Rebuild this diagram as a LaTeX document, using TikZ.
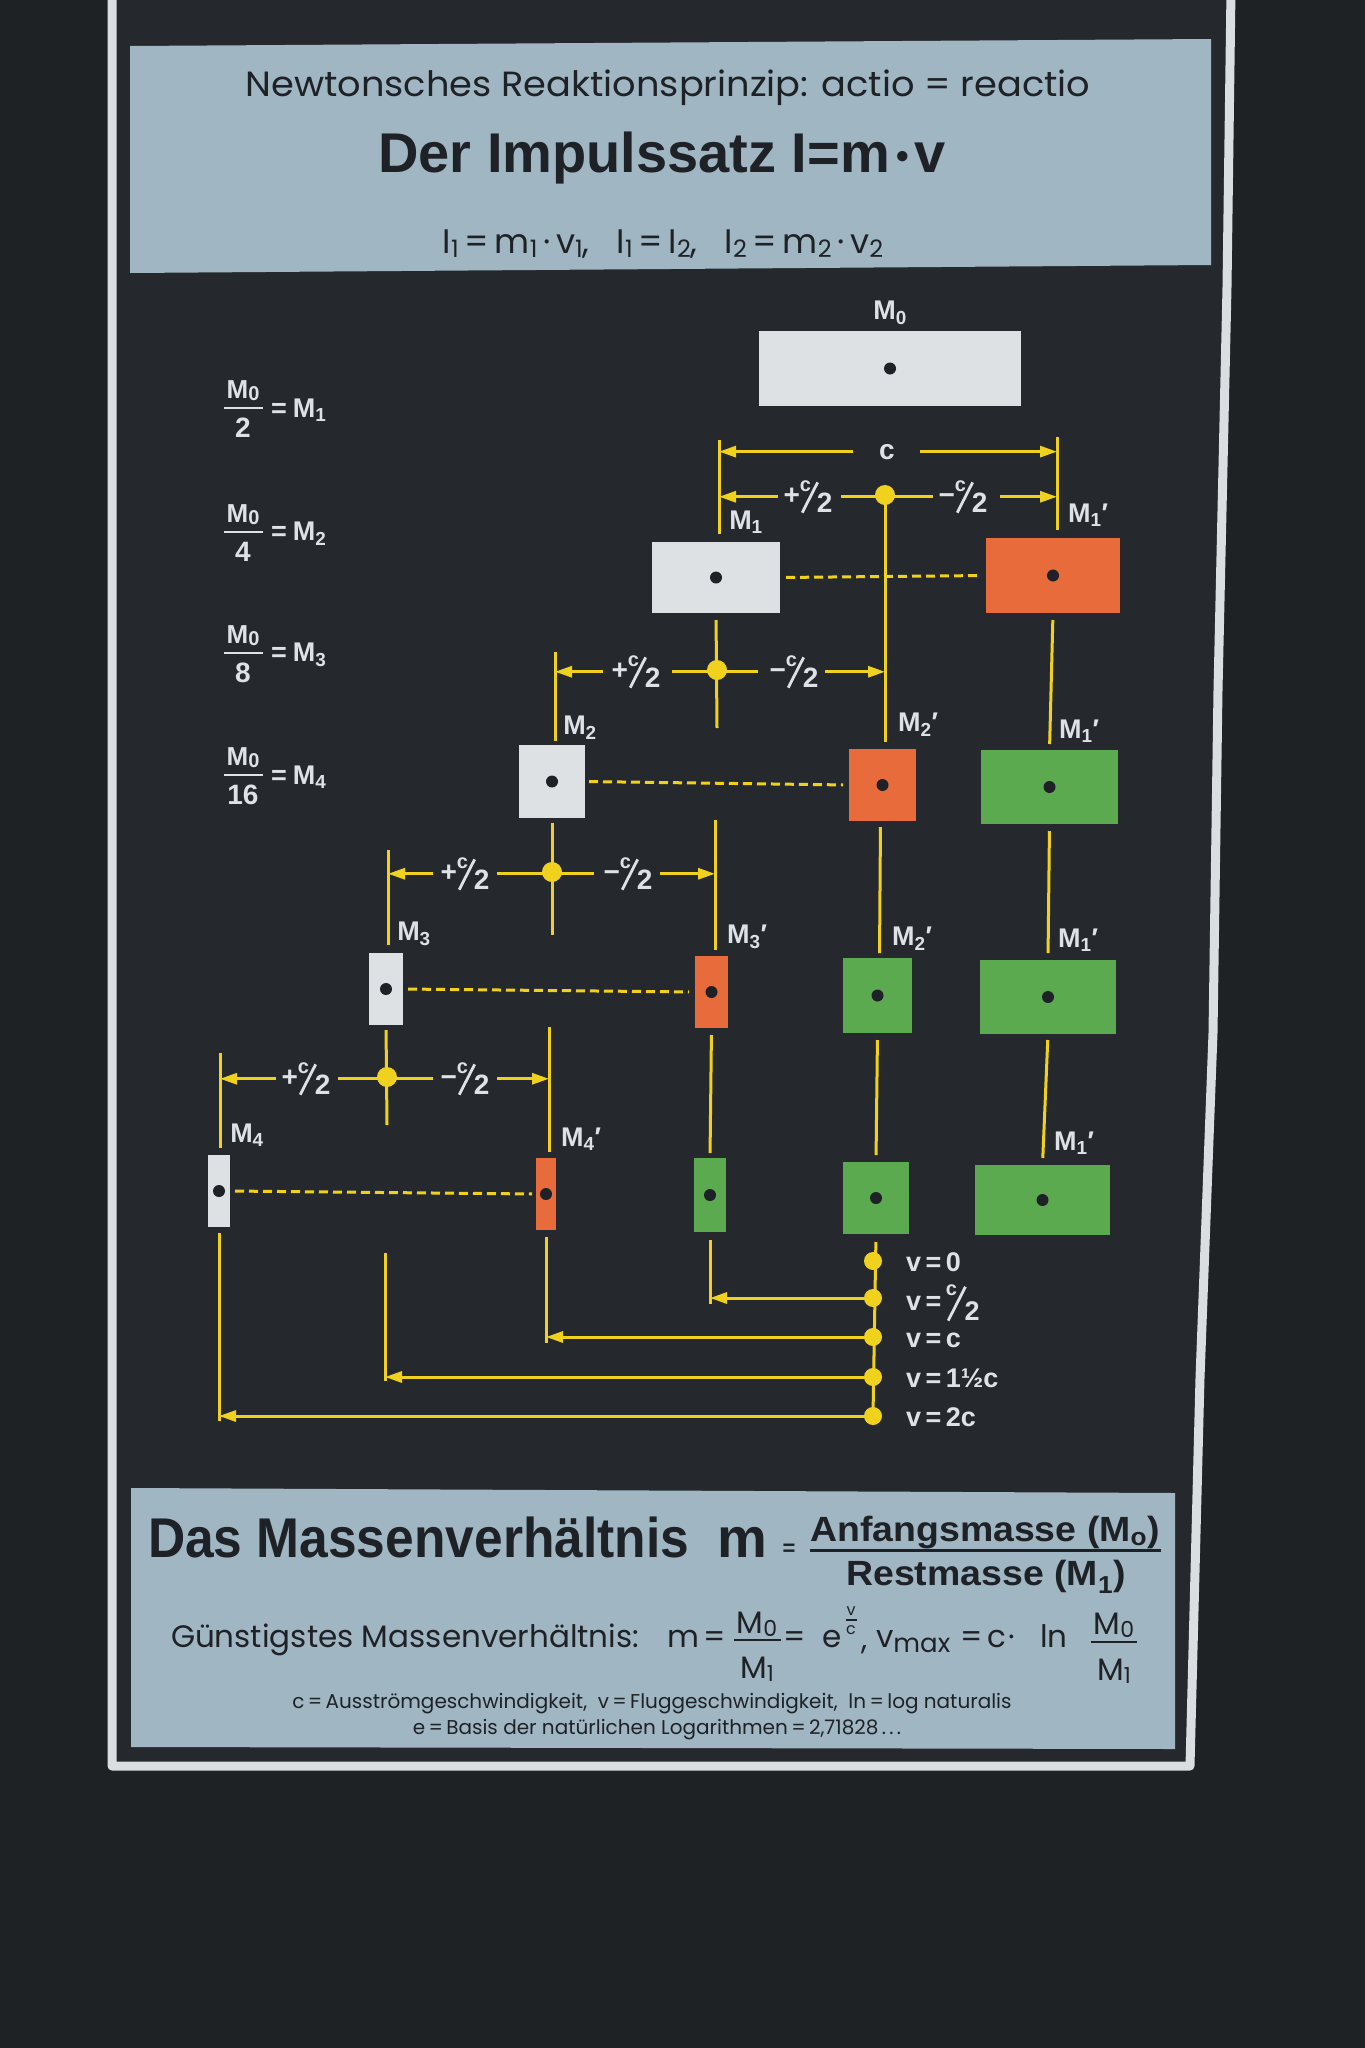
\documentclass[tikz,border=0pt]{standalone}
\usepackage{fontspec}
\usepackage{graphicx}
\setmainfont{Liberation Sans}
\newfontfamily\pop{Poppins}
\usetikzlibrary{arrows.meta}
\definecolor{bg}{HTML}{1F2225}
\definecolor{board}{HTML}{25292D}
\definecolor{framec}{HTML}{D9DEE1}
\definecolor{panel}{HTML}{A1B6C3}
\definecolor{ink}{HTML}{1E2226}
\definecolor{chalk}{HTML}{DDE2E6}
\definecolor{ywl}{HTML}{F0D21E}
\definecolor{org}{HTML}{E86B3B}
\definecolor{grn}{HTML}{5CAA50}
\definecolor{wht}{HTML}{DDE1E4}
\newcommand\fs[1]{\fontsize{#1}{#1}\selectfont}
\newcommand\sbx[3]{\raisebox{-#1pt}{\fs{#2}#3}}
\newcommand\slashbar[1]{\rotatebox{-27}{\rule{2.8pt}{#1}}}
\newcommand\chalf{\raisebox{13pt}{\fs{20}c}\kern-10pt\raisebox{-8pt}{\slashbar{34pt}}\kern-2pt\raisebox{-8pt}{2}}
\newcommand\chalfv{\raisebox{15pt}{\fs{20}c}\kern-10pt\raisebox{-10pt}{\slashbar{38pt}}\kern-2pt\raisebox{-10pt}{2}}
\begin{document}
\begin{tikzpicture}[x=1pt,y=-1pt,
  every node/.style={inner sep=0pt,outer sep=0pt},
  massW/.style={fill=wht},
  massO/.style={fill=org},
  massG/.style={fill=grn},
  lab/.style={font={\bfseries\fs{27}},text=chalk},
  hlab/.style={font={\bfseries\fs{28}},text=chalk,anchor=base},
  vlab/.style={anchor=base west,font={\bfseries\fs{27}},text=chalk},
  yl/.style={draw=ywl,line width=3pt},
  arr/.style={-{Triangle[length=17pt,width=11pt]}},
  dashlink/.style={draw=ywl,line width=3pt,dash pattern=on 9pt off 5pt},
  inkt/.style={text=ink},
  gtxt/.style={font={\pop\fs{31}},text=ink}]
\useasboundingbox (0,0) rectangle (1365,2048);
\fill[bg] (0,0) rectangle (1365,2048);
% board and frame
\fill[board] (112,-10) -- (112,1766) -- (1190,1766) -- (1200,1378) -- (1213,1033) -- (1218,690) -- (1227,287) -- (1231,-10) -- cycle;
\draw[framec,line width=9pt,line join=round] (112,-10) -- (112,1766) -- (1190,1766) -- (1200,1378) -- (1213,1033) -- (1218,690) -- (1227,287) -- (1231,-10);
% header panel
\fill[panel] (130,46) -- (1211,39) -- (1211,265) -- (130,273) -- cycle;
\node[anchor=base,font={\pop\fs{35}},inkt] (h1) at (668,96) {\scalebox{1.05}[1]{Newtonsches Reaktionsprinzip: actio = reactio}};
\node[anchor=base,font={\bfseries\fs{56}},inkt] (h2) at (662,172) {Der Impulssatz I=m\kern6pt\raisebox{4pt}{\fs{36}•}\kern6pt v};
\node[anchor=base,font={\pop\fs{34}},inkt] (h3) at (663,253) {I\sbx{4}{24}{1}\,=\,m\sbx{4}{24}{1}\,·\,v\sbx{4}{24}{1}, \ \ I\sbx{4}{24}{1}\,=\,I\sbx{4}{24}{2}, \ \ I\sbx{4}{24}{2}\,=\,m\sbx{4}{24}{2}\,·\,v\sbx{4}{24}{2}};
% left fraction labels
\foreach \d/\s/\b in {2/1/408,4/2/532,8/3/653,16/4/775}{
  \node[font={\bfseries\fs{26}},text=chalk] (fn\s) at (243,\b-17) {M\raisebox{-2pt}{\fs{20}0}};
  \draw[chalk,line width=2.5pt] (224,\b) -- (263,\b);
  \node[font={\bfseries\fs{28}},text=chalk] (fd\s) at (243,\b+20) {\d};
  \node[anchor=west,font={\bfseries\fs{27}},text=chalk] (fe\s) at (271,\b+2) {=\kern6pt M\textsubscript{\s}};
}
% mass boxes
\node[massW,minimum width=262pt,minimum height=75pt] (M0) at (890,368.5) {};
\node[massW,minimum width=128pt,minimum height=71pt] (M1) at (716,577.5) {};
\node[massO,minimum width=134pt,minimum height=75pt] (M1a) at (1053,575.5) {};
\node[massW,minimum width=66pt,minimum height=73pt] (M2) at (552,781.5) {};
\node[massO,minimum width=67pt,minimum height=72pt] (M2a) at (882.5,785) {};
\node[massG,minimum width=137pt,minimum height=74pt] (M1b) at (1049.5,787) {};
\node[massW,minimum width=34pt,minimum height=72pt] (M3) at (386,989) {};
\node[massO,minimum width=33pt,minimum height=72pt] (M3a) at (711.5,992) {};
\node[massG,minimum width=69pt,minimum height=75pt] (M2b) at (877.5,995.5) {};
\node[massG,minimum width=136pt,minimum height=74pt] (M1c) at (1048,997) {};
\node[massW,minimum width=22pt,minimum height=72pt] (M4) at (219,1191) {};
\node[massO,minimum width=20pt,minimum height=72pt] (M4a) at (546,1194) {};
\node[massG,minimum width=32pt,minimum height=74pt] (M3b) at (710,1195) {};
\node[massG,minimum width=66pt,minimum height=72pt] (M2c) at (876,1198) {};
\node[massG,minimum width=135pt,minimum height=70pt] (M1d) at (1042.5,1200) {};
% mass labels
\node[lab] (lM0) at (890,313) {M\textsubscript{0}};
\node[lab] (lM1) at (746,522) {M\textsubscript{1}};
\node[lab] (lM1a) at (1088,515) {M\textsubscript{1}′};
\node[lab] (lM2) at (580,728) {M\textsubscript{2}};
\node[lab] (lM2a) at (918,725) {M\textsubscript{2}′};
\node[lab] (lM1b) at (1079,731) {M\textsubscript{1}′};
\node[lab] (lM3) at (414,934) {M\textsubscript{3}};
\node[lab] (lM3a) at (747,937) {M\textsubscript{3}′};
\node[lab] (lM2b) at (912,939) {M\textsubscript{2}′};
\node[lab] (lM1c) at (1078,940) {M\textsubscript{1}′};
\node[lab] (lM4) at (247,1135) {M\textsubscript{4}};
\node[lab] (lM4a) at (581,1139) {M\textsubscript{4}′};
\node[lab] (lM1d) at (1074,1143) {M\textsubscript{1}′};
% dashed links
\draw[dashlink,shorten <=6pt,shorten >=6pt] (M1.east) -- (M1a.west);
\draw[dashlink,shorten <=4pt,shorten >=6pt] (M2.east) -- (M2a.west);
\draw[dashlink,shorten <=5pt,shorten >=6pt] (M3.east) -- (M3a.west);
\draw[dashlink,shorten <=5pt,shorten >=4pt] (M4.east) -- (M4a.west);
% ---- level 1
\coordinate (D1) at (885,495);
\coordinate (T1L) at (719,440);
\coordinate (T1R) at (1057,437);
\draw[yl,shorten >=8pt] (T1L) -- (T1L |- M1.north);
\draw[yl,shorten >=8pt] (T1R) -- (T1R |- M1a.north);
\node[hlab] (cl) at (887,459) {c};
\draw[yl,arr,shorten <=26pt] (cl.west) -- (cl.west -| T1L);
\draw[yl,arr,shorten <=25pt] (cl.east) -- (cl.east -| T1R);
\node[hlab] (p1) at (808,504) {+\chalf};
\node[hlab] (m1) at (963,504) {−\chalf};
\draw[yl,arr,shorten <=6pt] (p1.west) -- (p1.west -| T1L);
\draw[yl,shorten <=9pt,shorten >=6pt] (p1.east) -- (m1.west);
\draw[yl,arr,shorten <=12pt] (m1.east) -- (m1.east -| T1R);
\draw[yl,shorten >=7pt] (D1) -- (D1 |- M2a.north);
\fill[ywl] (D1) circle (10pt);
% ---- level 2
\coordinate (D2) at (717,670);
\coordinate (E2) at (717,728);
\coordinate (T2L) at (555,652);
\draw[yl,shorten <=7pt] (M1.south) -- (E2);
\draw[yl,shorten >=4pt] (T2L) -- (T2L |- M2.north);
\node[hlab] (p2) at (636,679) {+\chalf};
\node[hlab] (m2) at (794,679) {−\chalf};
\draw[yl,arr,shorten <=9pt] (p2.west) -- (p2.west -| T2L);
\draw[yl,shorten <=12pt,shorten >=12pt] (p2.east) -- (m2.west);
\draw[yl,arr,shorten <=7pt] (m2.east) -- (m2.east -| D1);
\fill[ywl] (D2) circle (10pt);
% ---- level 3
\coordinate (D3) at (552,872);
\coordinate (E3) at (552,935);
\coordinate (T3L) at (388,850);
\coordinate (T3R) at (715,820);
\draw[yl,shorten <=5pt] (M2.south) -- (E3);
\draw[yl,shorten >=8pt] (T3L) -- (T3L |- M3.north);
\draw[yl,shorten >=6pt] (T3R) -- (T3R |- M3a.north);
\node[hlab] (p3) at (465,881) {+\chalf};
\node[hlab] (m3) at (628,881) {−\chalf};
\draw[yl,arr,shorten <=8pt] (p3.west) -- (p3.west -| T3L);
\draw[yl,shorten <=8pt,shorten >=10pt] (p3.east) -- (m3.west);
\draw[yl,arr,shorten <=8pt] (m3.east) -- (m3.east -| T3R);
\fill[ywl] (D3) circle (10pt);
% ---- level 4
\coordinate (D4) at (387,1077);
\coordinate (E4) at (387,1125);
\coordinate (T4L) at (220,1053);
\coordinate (T4R) at (549,1027);
\draw[yl,shorten <=5pt] (M3.south) -- (E4);
\draw[yl,shorten >=7pt] (T4L) -- (T4L |- M4.north);
\draw[yl,shorten >=6pt] (T4R) -- (T4R |- M4a.north);
\node[hlab] (p4) at (306,1086) {+\chalf};
\node[hlab] (m4) at (465,1086) {−\chalf};
\draw[yl,arr,shorten <=6pt] (p4.west) -- (p4.west -| T4L);
\draw[yl,shorten <=8pt,shorten >=8pt] (p4.east) -- (m4.west);
\draw[yl,arr,shorten <=8pt] (m4.east) -- (m4.east -| T4R);
\fill[ywl] (D4) circle (10pt);
% ---- vertical links between equal masses
\draw[yl,shorten <=7pt,shorten >=6pt] (M1a.south) -- (M1b.north);
\draw[yl,shorten <=7pt,shorten >=7pt] (M1b.south) -- (M1c.north);
\draw[yl,shorten <=6pt,shorten >=7pt] (M1c.south) -- (M1d.north);
\draw[yl,shorten <=6pt,shorten >=5pt] ([xshift=-2pt]M2a.south) -- ([xshift=2pt]M2b.north);
\draw[yl,shorten <=7pt,shorten >=7pt] (M2b.south) -- (M2c.north);
\draw[yl,shorten <=7pt,shorten >=5pt] (M3a.south) -- (M3b.north);
% ---- velocities
\coordinate (V0) at (873,1261);
\coordinate (V1) at (873,1298);
\coordinate (V2) at (873,1337);
\coordinate (V3) at (873,1377);
\coordinate (V4) at (873,1416);
\draw[yl,shorten <=8pt] (M2c.south) -- (V4);
\coordinate (B1) at (710,1304);
\coordinate (B2) at (546,1343);
\coordinate (B3t) at (385,1253);
\coordinate (B3) at (385,1381);
\coordinate (B4) at (219,1421);
\draw[yl,shorten <=8pt] (M3b.south) -- (B1);
\draw[yl,shorten <=7pt] (M4a.south) -- (B2);
\draw[yl] (B3t) -- (B3);
\draw[yl,shorten <=6pt] (M4.south) -- (B4);
\draw[yl,arr] (V1) -- (V1 -| B1);
\draw[yl,arr] (V2) -- (V2 -| B2);
\draw[yl,arr] (V3) -- (V3 -| B3);
\draw[yl,arr] (V4) -- (V4 -| B4);
\foreach \v in {V0,V1,V2,V3,V4} \fill[ywl] (\v) circle (9pt);
\node[vlab] (lv0) at (906,1271) {v\,=\,0};
\node[vlab] (lv1) at (906,1310) {v\,=\,\chalfv};
\node[vlab] (lv2) at (906,1347) {v\,=\,c};
\node[vlab] (lv3) at (906,1387) {v\,=\,1½c};
\node[vlab] (lv4) at (906,1426) {v\,=\,2c};
% dots in masses
\foreach \m in {M0,M1,M1a,M2,M2a,M1b,M3,M3a,M2b,M1c,M4,M4a,M3b,M2c,M1d} \fill[ink] (\m.center) circle (6pt);
% bottom panel
\fill[panel] (131,1488) -- (1175,1493) -- (1175,1749) -- (131,1747) -- cycle;
\node[anchor=base west,font={\bfseries\fs{56}},inkt] (b1) at (148,1557) {\scalebox{0.92}[1]{Das Massenverhältnis}};
\node[anchor=base west,font={\bfseries\fs{56}},inkt] (bm) at (717,1557) {m};
\node[font={\bfseries\fs{22}},inkt] (beq) at (789,1550) {=};
\node[anchor=base,font={\bfseries\fs{35}},inkt] (bnum) at (985,1541) {\scalebox{1.07}[1]{Anfangsmasse (M\textsubscript{o})}};
\draw[ink,line width=3pt] (810,1550) -- (1161,1550);
\node[anchor=base,font={\bfseries\fs{35}},inkt] (bden) at (986,1585) {\scalebox{1.07}[1]{Restmasse (M\textsubscript{1})}};
\node[anchor=base west,gtxt] (g1) at (171,1647) {Günstigstes Massenverhältnis:};
\node[anchor=base west,gtxt] (gm) at (667,1647) {m};
\node[anchor=base,gtxt] (ge1) at (715,1647) {=};
\node[anchor=base,gtxt] (f1n) at (757,1633) {M\sbx{3}{22}{0}};
\draw[ink,line width=2pt] (734,1640) -- (781,1640);
\node[anchor=base,gtxt] (f1d) at (757,1678) {M\sbx{3}{22}{1}};
\node[anchor=base,gtxt] (ge2) at (795,1647) {=};
\node[anchor=base west,gtxt] (ge) at (822,1647) {e};
\node[font={\pop\fs{16}},inkt] (ev) at (851,1611) {v};
\draw[ink,line width=1.5pt] (846,1620) -- (857,1620);
\node[font={\pop\fs{16}},inkt] (ec) at (851,1630) {c};
\node[anchor=base west,gtxt] (gc) at (861,1649) {,};
\node[anchor=base west,gtxt] (gv) at (876,1647) {v\sbx{5}{26}{max}};
\node[anchor=base,gtxt] (ge3) at (972,1647) {=};
\node[anchor=base west,gtxt] (gcc) at (987,1647) {c};
\node[anchor=base,gtxt] (gdot) at (1012,1647) {·};
\node[anchor=base west,gtxt] (gln) at (1040,1647) {ln};
\node[anchor=base,gtxt] (f2n) at (1114,1634) {M\sbx{3}{22}{0}};
\draw[ink,line width=2pt] (1091,1642) -- (1137,1642);
\node[anchor=base,gtxt] (f2d) at (1114,1680) {M\sbx{3}{22}{1}};
\node[anchor=base,font={\pop\fs{20}},inkt] (s1) at (652,1708) {c\,=\,Ausströmgeschwindigkeit, \ v\,=\,Fluggeschwindigkeit, \ ln\,=\,log naturalis};
\node[anchor=base,font={\pop\fs{20}},inkt] (s2) at (657,1734) {e\,=\,Basis der natürlichen Logarithmen\,=\,2,71828\,.\,.\,.};
\end{tikzpicture}
\end{document}
